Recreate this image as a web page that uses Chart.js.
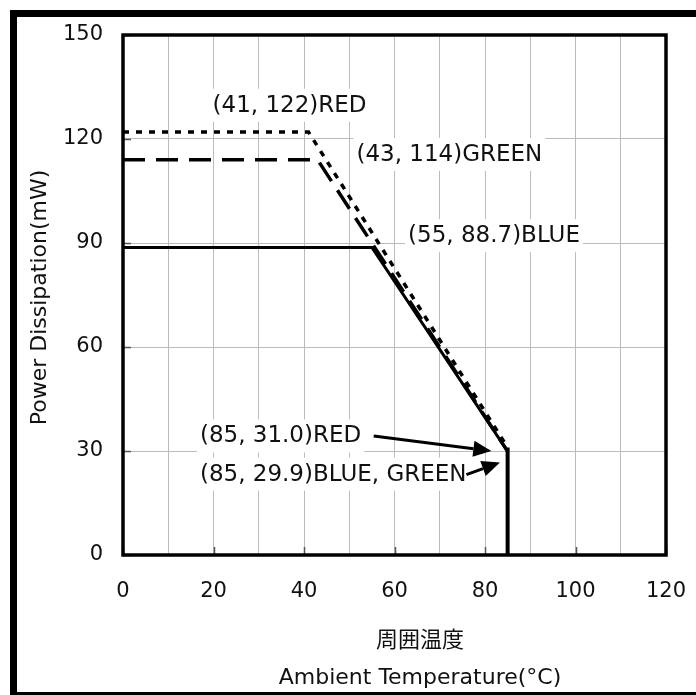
<!DOCTYPE html>
<html>
<head>
<meta charset="utf-8">
<script src="https://cdn.jsdelivr.net/npm/chart.js@4/dist/chart.umd.min.js"></script>
<style>
  html, body { margin: 0; padding: 0; background: #fff; }
  #wrap { width: 696px; height: 695px; }
</style>
</head>
<body>
<div id="wrap"><canvas id="plot"></canvas></div>
<script>
// datos de la curva de derating
const redTemp = [0, 41, 85];
const redPower = [122, 122, 31.0];
const greenTemp = [0, 43, 85];
const greenPower = [114, 114, 29.9];
const blueTemp = [0, 55, 85];
const bluePower = [88.7, 88.7, 29.9];
const cutoffTemp = [85, 85];
const cutoffPower = [31.0, 0];

const yTicks = [0, 30, 60, 90, 120, 150];
const xLabels = [0, 20, 40, 60, 80, 100, 120];

const yTitle = 'Power Dissipation(mW)';
const xTitleJa = '周囲温度';
const xTitleEn = 'Ambient Temperature(°C)';

// textos de las notas (posicion en unidades de los ejes)
const notes = [
  { text: '(41, 122)RED', x: 19.8, y: 129.6 },
  { text: '(43, 114)GREEN', x: 51.6, y: 115.4 },
  { text: '(55, 88.7)BLUE', x: 63.0, y: 92.0 },
  { text: '(85, 31.0)RED', x: 17.0, y: 34.2 },
  { text: '(85, 29.9)BLUE, GREEN', x: 17.0, y: 23.2 },
];
const arrows = [
  { from: [55.4, 34.3], to: [81.4, 30.0] },
  { from: [75.9, 23.2], to: [83.3, 26.7] },
];

const FONT = '"DejaVu Sans", Verdana, sans-serif';
const FONT_JA = '"Noto Sans CJK JP", sans-serif';

let toPoints = (xs, ys) => xs.map((x, i) => ({ x: x, y: ys[i] }));

// marco exterior, borde del area y titulos de los ejes
let framePlugin = {
  id: 'frame',
  beforeDraw: (chart) => {
    const ctx = chart.ctx;
    ctx.save();
    ctx.fillStyle = '#fff';
    ctx.fillRect(0, 0, chart.width, chart.height);
    ctx.fillStyle = '#000';
    ctx.fillRect(10, 10, chart.width - 10, 7);
    ctx.fillRect(10, 10, 7, chart.height - 10);
    ctx.fillRect(10, chart.height - 3, chart.width - 10, 3);
    ctx.restore();
  },
  afterDatasetsDraw: (chart) => {
    const ctx = chart.ctx;
    const a = chart.chartArea;
    const xs = chart.scales.x;
    const ys = chart.scales.y;
    ctx.save();

    // marcas cortas hacia adentro
    ctx.strokeStyle = '#555';
    ctx.lineWidth = 1.5;
    ctx.beginPath();
    yTicks.forEach(v => {
      const py = Math.round(ys.getPixelForValue(v)) + 0.5;
      ctx.moveTo(a.left, py);
      ctx.lineTo(a.left + 8, py);
    });
    xLabels.forEach(v => {
      const px = Math.round(xs.getPixelForValue(v)) + 0.5;
      ctx.moveTo(px, a.bottom);
      ctx.lineTo(px, a.bottom - 8);
    });
    ctx.stroke();

    ctx.strokeStyle = '#000';
    ctx.lineWidth = 3.5;
    ctx.strokeRect(a.left, a.top, a.right - a.left, a.bottom - a.top);

    ctx.fillStyle = '#111';
    ctx.textAlign = 'center';
    ctx.font = '22px ' + FONT_JA;
    ctx.textBaseline = 'middle';
    ctx.fillText(xTitleJa, 420, 639);
    ctx.font = '22px ' + FONT;
    ctx.textBaseline = 'alphabetic';
    ctx.fillText(xTitleEn, 420, 684);

    ctx.translate(45.5, 297.5);
    ctx.rotate(-Math.PI / 2);
    ctx.fillText(yTitle, 0, 0);
    ctx.restore();
  }
};

// notas con fondo blanco y flechas
let notesPlugin = {
  id: 'notes',
  beforeDatasetsDraw: (chart) => {
    const ctx = chart.ctx;
    const xs = chart.scales.x;
    const ys = chart.scales.y;
    ctx.save();
    ctx.font = '23px ' + FONT;
    ctx.textBaseline = 'middle';
    notes.forEach(n => {
      const px = xs.getPixelForValue(n.x);
      const py = ys.getPixelForValue(n.y);
      const w = ctx.measureText(n.text).width;
      ctx.fillStyle = '#fff';
      ctx.fillRect(px - 3, py - 17, w + 6, 33);
      ctx.fillStyle = '#111';
      ctx.fillText(n.text, px, py);
    });
    ctx.restore();
  },
  afterDatasetsDraw: (chart) => {
    const ctx = chart.ctx;
    const xs = chart.scales.x;
    const ys = chart.scales.y;
    ctx.save();
    ctx.strokeStyle = '#000';
    ctx.fillStyle = '#000';
    ctx.lineWidth = 3;
    arrows.forEach(a => {
      const x1 = xs.getPixelForValue(a.from[0]);
      const y1 = ys.getPixelForValue(a.from[1]);
      const x2 = xs.getPixelForValue(a.to[0]);
      const y2 = ys.getPixelForValue(a.to[1]);
      const ang = Math.atan2(y2 - y1, x2 - x1);
      const len = 18, half = 8;
      const bx = x2 - len * Math.cos(ang);
      const by = y2 - len * Math.sin(ang);
      ctx.beginPath();
      ctx.moveTo(x1, y1);
      ctx.lineTo(bx, by);
      ctx.stroke();
      ctx.beginPath();
      ctx.moveTo(x2, y2);
      ctx.lineTo(bx + half * Math.sin(ang), by - half * Math.cos(ang));
      ctx.lineTo(bx - half * Math.sin(ang), by + half * Math.cos(ang));
      ctx.closePath();
      ctx.fill();
    });
    ctx.restore();
  }
};

let lineSet = (label, xs, ys, dash, width) => ({
  label: label,
  data: toPoints(xs, ys),
  showLine: true,
  borderColor: '#000',
  borderWidth: width,
  borderDash: dash,
  pointRadius: 0,
  fill: false,
  tension: 0,
});

let config = {
  type: 'scatter',
  data: {
    datasets: [
      lineSet('BLUE', blueTemp, bluePower, [], 3),
      lineSet('GREEN', greenTemp, greenPower, [22, 11], 3.5),
      lineSet('RED', redTemp, redPower, [6, 7], 3.5),
      lineSet('cutoff', cutoffTemp, cutoffPower, [], 4),
    ]
  },
  options: {
    responsive: true,
    maintainAspectRatio: false,
    animation: false,
    layout: { padding: { left: 0, top: 35, right: 30, bottom: 0 } },
    plugins: {
      legend: { display: false },
      tooltip: { enabled: false },
    },
    scales: {
      x: {
        type: 'linear',
        min: 0,
        max: 120,
        afterFit: (s) => { s.height = 140; s.paddingLeft = 0; s.paddingRight = 0; },
        grid: { color: '#bcbcbc', lineWidth: 1, drawTicks: false },
        border: { display: false },
        ticks: {
          stepSize: 10,
          padding: 24,
          color: '#111',
          font: { family: FONT, size: 21 },
          maxRotation: 0,
          autoSkip: false,
          callback: (v) => xLabels.includes(v) ? String(v) : '',
        },
      },
      y: {
        type: 'linear',
        min: 0,
        max: 150,
        afterFit: (s) => { s.width = 123; },
        afterBuildTicks: (s) => { s.ticks = yTicks.map(v => ({ value: v })); },
        grid: { color: '#bcbcbc', lineWidth: 1, drawTicks: false },
        border: { display: false },
        ticks: {
          padding: 20,
          color: '#111',
          font: { family: FONT, size: 21 },
        },
      },
    },
  },
  plugins: [framePlugin, notesPlugin],
};

let chart = new Chart(document.getElementById('plot'), config);
</script>
</body>
</html>
